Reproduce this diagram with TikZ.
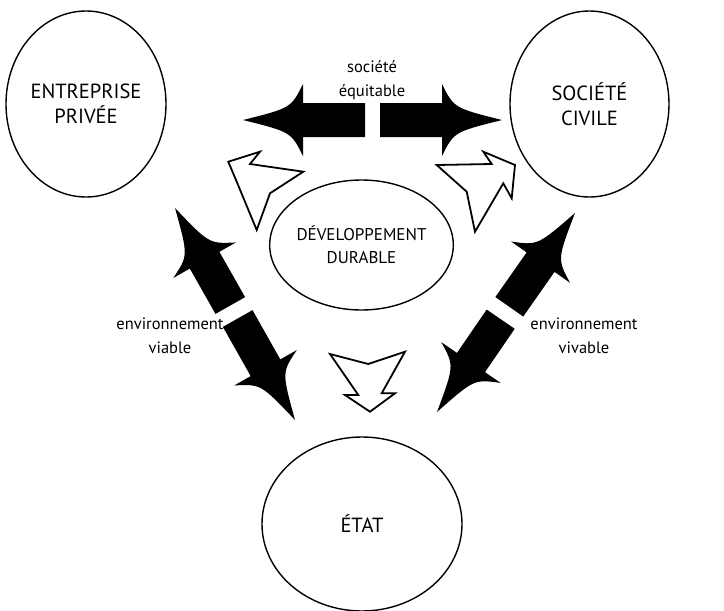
\documentclass[tikz,border=0pt]{standalone}
\usepackage{fontspec}
\setmainfont{PT Sans}
\usetikzlibrary{shapes.geometric,calc}
\tikzset{
  ell/.style={draw, ellipse, line width=1.4pt, inner sep=0pt, align=center,
    font=\fontsize{20.5}{25}\selectfont},
  lbl/.style={align=center, font=\fontsize{16.5}{24}\selectfont, inner sep=0pt},
  whitearrow/.style={draw, fill=white, line width=1.8pt, line join=miter},
  bigarrow/.style={fill=black, to path={
    ($(\tikztostart)!17pt!90:(\tikztotarget)$)
    -- ($(\tikztotarget)!60pt!(\tikztostart)!17pt!90:(\tikztotarget)$)
    -- ($(\tikztotarget)!60pt!(\tikztostart)!36pt!90:(\tikztotarget)$)
    .. controls ($(\tikztotarget)!48pt!(\tikztostart)!12pt!90:(\tikztotarget)$) .. (\tikztotarget)
    .. controls ($(\tikztotarget)!48pt!(\tikztostart)!12pt!-90:(\tikztotarget)$) ..
       ($(\tikztotarget)!60pt!(\tikztostart)!36pt!-90:(\tikztotarget)$)
    -- ($(\tikztotarget)!60pt!(\tikztostart)!17pt!-90:(\tikztotarget)$)
    -- ($(\tikztostart)!17pt!-90:(\tikztotarget)$) -- cycle}}
}
\begin{document}
\begin{tikzpicture}[x=1pt,y=-1pt]
\useasboundingbox (0,0) rectangle (724,611);

% ellipses
\node[ell, minimum width=160pt, minimum height=186pt] (ep) at (86,104) {ENTREPRISE\\PRIVÉE};
\node[ell, minimum width=159pt, minimum height=186pt] (sc) at (589.5,104) {SOCIÉTÉ\\CIVILE};
\node[ell, minimum width=143pt, minimum height=130pt, font=\fontsize{17}{23}\selectfont] (dd) at (361.5,245) {DÉVELOPPEMENT\\DURABLE};
\node[ell, minimum width=200pt, minimum height=174pt] (et) at (362,524) {ÉTAT};

% black arrow end points
\coordinate (gT1) at (365,120); \coordinate (tTL) at (243,120);
\coordinate (gT2) at (380,120); \coordinate (tTR) at (502,120);
\coordinate (gL1) at (230.3,305.5); \coordinate (tL1) at (175,208);
\coordinate (gL2) at (237.7,318.5); \coordinate (tL2) at (295,420);
\coordinate (gR1) at (509.3,306.8); \coordinate (tR1) at (575,213);
\coordinate (gR2) at (500.7,319.2); \coordinate (tR2) at (437,412);

\fill[bigarrow] (gT1) to (tTL);
\fill[bigarrow] (gT2) to (tTR);
\fill[bigarrow] (gL1) to (tL1);
\fill[bigarrow] (gL2) to (tL2);
\fill[bigarrow] (gR1) to (tR1);
\fill[bigarrow] (gR2) to (tR2);

% white arrows
\draw[whitearrow] (228.3,161.7) -- (260,151.7) -- (250,164) -- (303.3,171.7)
  -- (270,193.3) -- (256.7,230) -- (236.7,181.7) -- cycle;
\draw[whitearrow] (436.7,165) -- (491.7,164) -- (483.3,151.7) -- (515,165)
  -- (511.7,198.3) -- (503.3,183.3) -- (475,231.7) -- (466.7,191.7) -- cycle;
\draw[whitearrow] (330,354) -- (368.3,364) -- (405,351.7) -- (381.7,393.3)
  -- (395,393.3) -- (370,411.7) -- (345,395) -- (358.3,395) -- cycle;

% labels
\node[lbl] (se) at (372,80) {société\\équitable};
\node[lbl] (ev1) at (170,336) {environnement\\viable};
\node[lbl] (ev2) at (584,336) {environnement\\vivable};
\end{tikzpicture}
\end{document}
